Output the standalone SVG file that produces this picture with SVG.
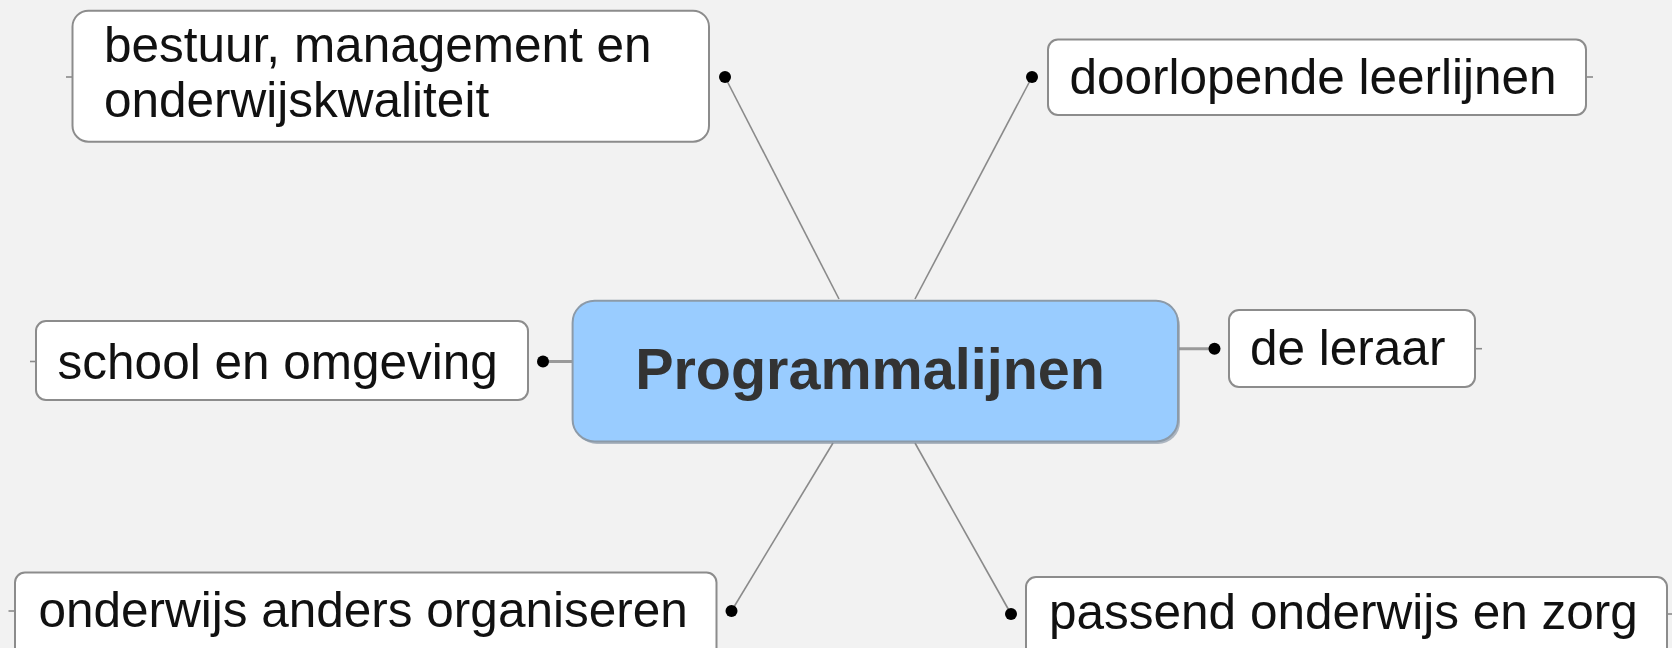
<svg xmlns="http://www.w3.org/2000/svg" width="1672" height="648" viewBox="0 0 1672 648">
<style>
.bg{fill:#f2f2f2}
.box{fill:#ffffff;stroke:#8c8c8c;stroke-width:2}
.lbl{font-family:"Liberation Sans",Arial,sans-serif;font-size:49.5px;fill:#111}
.ctr{font-family:"Liberation Sans",Arial,sans-serif;font-size:57.5px;font-weight:bold;fill:#333}
.con{stroke:#8a8a8a;stroke-width:1.6;fill:none}
.dot{fill:#000}
</style>
<rect class="bg" x="0" y="0" width="1672" height="648"/>
<g id="connectors">
<line class="con" x1="839" y1="299" x2="725" y2="77"/>
<line class="con" x1="915" y1="299" x2="1032" y2="77"/>
<line class="con" x1="833" y1="443" x2="731.5" y2="611"/>
<line class="con" x1="915" y1="443" x2="1011" y2="614"/>
<line class="con" x1="543" y1="361.5" x2="573" y2="361.5" style="stroke-width:3;stroke:#9a9a9a"/>
<line class="con" x1="1178" y1="348.7" x2="1214.5" y2="348.7" style="stroke-width:3;stroke:#9a9a9a"/>
<line class="con" x1="66" y1="77" x2="72.5" y2="77"/>
<line class="con" x1="1586" y1="77" x2="1593" y2="77"/>
<line class="con" x1="30" y1="361.5" x2="36" y2="361.5"/>
<line class="con" x1="1475" y1="348.7" x2="1482" y2="348.7"/>
<line class="con" x1="8.5" y1="611" x2="15" y2="611"/>
<line class="con" x1="1667" y1="614" x2="1672" y2="614"/>
</g>
<g id="center">
<rect x="575" y="304" width="605" height="140" rx="22" fill="#7f8ea0" opacity="0.6"/>
<rect x="572.6" y="300.7" width="605.4" height="140.7" rx="22" fill="#99ccff" stroke="#8c9aa8" stroke-width="2"/>
<text class="ctr" x="870" y="389" text-anchor="middle">Programmalijnen</text>
</g>
<g id="n1">
<rect class="box" x="72.5" y="10.7" width="636.5" height="131" rx="16"/>
<text class="lbl" x="104" y="62">bestuur, management en</text>
<text class="lbl" x="104" y="117">onderwijskwaliteit</text>
<circle class="dot" cx="725" cy="77" r="6"/>
</g>
<g id="n2">
<rect class="box" x="1048" y="39.5" width="538" height="75.5" rx="10"/>
<text class="lbl" x="1069.5" y="94">doorlopende leerlijnen</text>
<circle class="dot" cx="1032" cy="77" r="6"/>
</g>
<g id="n3">
<rect class="box" x="36" y="321" width="492" height="79" rx="10"/>
<text class="lbl" x="57.6" y="378.5">school en omgeving</text>
<circle class="dot" cx="543" cy="361.5" r="6"/>
</g>
<g id="n4">
<rect class="box" x="1229" y="310" width="246" height="77" rx="10"/>
<text class="lbl" x="1250" y="364.7">de leraar</text>
<circle class="dot" cx="1214.5" cy="348.7" r="6"/>
</g>
<g id="n5">
<rect class="box" x="15" y="572.6" width="701.5" height="90" rx="10"/>
<text class="lbl" x="38.4" y="627">onderwijs anders organiseren</text>
<circle class="dot" cx="731.5" cy="611" r="6"/>
</g>
<g id="n6">
<rect class="box" x="1026" y="577" width="641" height="90" rx="10"/>
<text class="lbl" x="1049" y="629">passend onderwijs en zorg</text>
<circle class="dot" cx="1011" cy="614" r="6"/>
</g>
</svg>
